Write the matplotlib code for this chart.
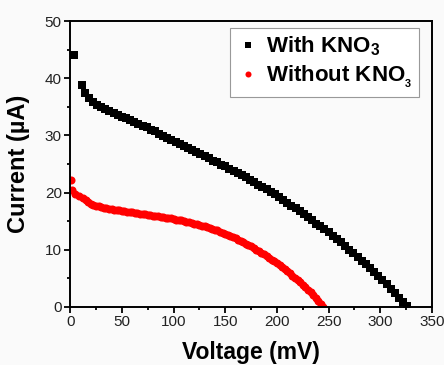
import matplotlib
matplotlib.use("Agg")
import matplotlib.pyplot as plt
from matplotlib.ticker import MultipleLocator

plt.rcParams['font.family'] = ['Liberation Sans', 'DejaVu Sans']
plt.rcParams['mathtext.fontset'] = 'custom'
plt.rcParams['mathtext.rm'] = 'Liberation Sans:bold'
plt.rcParams['mathtext.bf'] = 'Liberation Sans:bold'
plt.rcParams['mathtext.default'] = 'bf'

# with KNO3 (black squares), voltage in mV, current in uA
v_with = [4, 11, 14, 18, 22, 26, 30, 34, 38, 42, 46, 50, 54, 58, 62, 66, 70, 74, 78,
          82, 86, 90, 94, 98, 102, 106, 110, 114, 118, 122, 126, 130, 134, 138, 142,
          146, 150, 154, 158, 162, 166, 170, 174, 178, 182, 186, 190, 194, 198, 202,
          206, 210, 214, 218, 222, 226, 230, 234, 238, 242, 246, 250, 254, 258, 262,
          266, 270, 274, 278, 282, 286, 290, 294, 298, 302, 306, 310, 314, 318, 322, 326]
i_with = [44.1, 38.8, 37.4, 36.5, 35.9, 35.4, 35.0, 34.6, 34.3, 34.0, 33.6, 33.3, 33.0,
          32.7, 32.4, 32.0, 31.7, 31.4, 31.0, 30.7, 30.3, 29.9, 29.6, 29.2, 28.8, 28.5,
          28.1, 27.8, 27.4, 27.1, 26.7, 26.4, 26.0, 25.6, 25.3, 24.9, 24.6, 24.2, 23.8,
          23.4, 23.1, 22.7, 22.3, 21.9, 21.4, 21.0, 20.6, 20.1, 19.7, 19.2, 18.7, 18.2,
          17.7, 17.3, 16.8, 16.3, 15.7, 15.2, 14.6, 14.1, 13.6, 13.1, 12.5, 11.9, 11.3,
          10.7, 10.0, 9.4, 8.8, 8.1, 7.5, 6.8, 6.1, 5.4, 4.7, 4.0, 3.2, 2.4, 1.6, 0.8, 0.1]

# without KNO3 (red circles)
v_without = [0.5, 1.5, 4.5, 9, 12.5, 15, 17.5, 20, 22.5, 25, 27.5, 30, 32.5, 35, 37.5,
             40, 42.5, 45, 47.5, 50, 52.5, 55, 57.5, 60, 62.5, 65, 67.5, 70, 72.5, 75,
             77.5, 80, 82.5, 85, 87.5, 90, 92.5, 95, 97.5, 100, 102.5, 105, 107.5, 110,
             112.5, 115, 117.5, 120, 122.5, 125, 127.5, 130, 132.5, 135, 137.5, 140,
             142.5, 145, 147.5, 150, 152.5, 155, 157.5, 160, 162.5, 165, 167.5, 170,
             172.5, 175, 177.5, 180, 182.5, 185, 187.5, 190, 192.5, 195, 197.5, 200,
             202.5, 205, 207.5, 210, 212.5, 215, 217.5, 220, 222.5, 225, 227.5, 230,
             232.5, 235, 237.5, 240, 242.5, 245]
i_without = [22.3, 20.4, 19.8, 19.4, 19.0, 18.7, 18.4, 18.1, 17.9, 17.7, 17.6, 17.5,
             17.4, 17.3, 17.2, 17.1, 17.0, 16.95, 16.9, 16.8, 16.75, 16.7, 16.6, 16.55,
             16.5, 16.4, 16.35, 16.3, 16.2, 16.15, 16.1, 16.0, 15.95, 15.9, 15.8, 15.7,
             15.65, 15.6, 15.5, 15.4, 15.3, 15.2, 15.15, 15.05, 14.95, 14.85, 14.75,
             14.6, 14.5, 14.4, 14.25, 14.1, 14.0, 13.85, 13.7, 13.55, 13.4, 13.2, 13.0,
             12.85, 12.65, 12.45, 12.25, 12.05, 11.8, 11.6, 11.35, 11.1, 10.85, 10.6,
             10.35, 10.05, 9.75, 9.5, 9.2, 8.9, 8.6, 8.3, 8.0, 7.7, 7.35, 7.0, 6.65, 6.3,
             5.9, 5.5, 5.1, 4.7, 4.3, 3.9, 3.45, 3.0, 2.55, 2.1, 1.6, 1.1, 0.55, 0.05]

fig = plt.figure(figsize=(4.44, 3.65), dpi=100, facecolor='#fafafa')
ax = fig.add_axes([0.158, 0.159, 0.815, 0.783], facecolor='#fafafa')

ax.plot(v_with, i_with, 's', color='black', ms=5.4, mew=0, label=r'With KNO$_3$')
ax.plot(v_without, i_without, 'o', color='red', ms=5.8, mew=0, label=r'Without KNO$_{_3}$')

ax.set_xlim(0, 350)
ax.set_ylim(0, 50)
ax.xaxis.set_major_locator(MultipleLocator(50))
ax.xaxis.set_minor_locator(MultipleLocator(25))
ax.yaxis.set_major_locator(MultipleLocator(10))
ax.yaxis.set_minor_locator(MultipleLocator(5))
ax.tick_params(which='major', length=4, width=1.3, labelsize=11, pad=2, colors='black')
ax.tick_params(which='minor', length=2.5, width=1.3)
ax.tick_params(axis='x', labelcolor='#222222')
ax.tick_params(axis='y', labelcolor='#222222')
for s in ax.spines.values():
    s.set_linewidth(1.4)

ax.set_xlabel('Voltage (mV)', fontsize=16.5, fontweight='bold')
ax.set_ylabel('Current (\u00b5A)', fontsize=17, fontweight='bold')
ax.xaxis.set_label_coords(0.5, -0.118)
ax.yaxis.set_label_coords(-0.11, 0.5)

leg = ax.legend(loc='upper right', bbox_to_anchor=(0.964, 0.976), borderaxespad=0,
                prop={'weight': 'bold', 'size': 16}, fancybox=False,
                edgecolor='#999999', framealpha=1, handletextpad=0.3, markerscale=0.75,
                handlelength=1.0, borderpad=0.3, labelspacing=0.25)
leg.get_frame().set_linewidth(0.8)

fig.savefig('out.png', dpi=100, facecolor=fig.get_facecolor())
